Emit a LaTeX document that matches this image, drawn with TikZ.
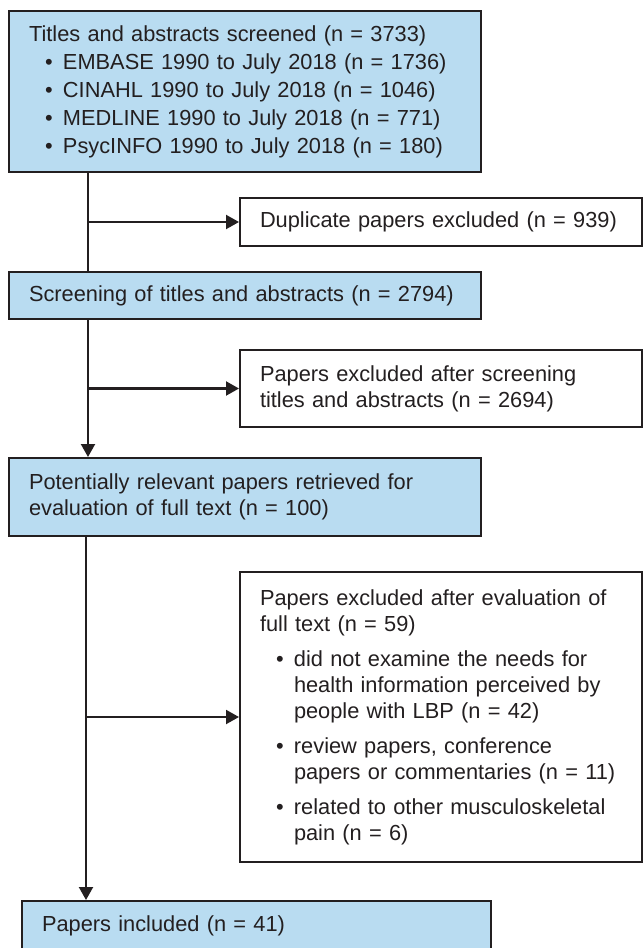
\documentclass[tikz,border=0pt]{standalone}
\usepackage{fontspec}
\setmainfont{Liberation Sans}
\usetikzlibrary{arrows.meta}
\definecolor{boxblue}{HTML}{B9DCF1}
\definecolor{ink}{HTML}{231F20}
\newcommand{\itm}{\makebox[34pt][l]{\hspace*{16pt}\textbullet}}
\newcommand{\cont}{\hspace*{34pt}}
\begin{document}
\begin{tikzpicture}[x=1pt,y=-1pt,
  box/.style={draw=ink, line width=2pt, anchor=north west, inner xsep=20pt, inner ysep=0pt, align=left, text=ink, font=\fontsize{21.8}{26}\selectfont},
  bluebox/.style={box, fill=boxblue},
  whitebox/.style={box, fill=white},
  conn/.style={draw=ink, line width=2.1pt},
  arr/.style={conn, -{Triangle[length=13pt,width=14pt]}}]
\useasboundingbox (0,0) rectangle (643,948);

\node[bluebox, text width=432pt, minimum height=161pt, font=\fontsize{21.8}{28}\selectfont] (box1) at (8,10) {Titles and abstracts screened (n = 3733)\\
\itm EMBASE 1990 to July 2018 (n = 1736)\\
\itm CINAHL 1990 to July 2018 (n = 1046)\\
\itm MEDLINE 1990 to July 2018 (n = 771)\\
\itm PsycINFO 1990 to July 2018 (n = 180)};

\node[whitebox, text width=362pt, minimum height=48pt] (dup) at (239,197) {Duplicate papers excluded (n = 939)};

\node[bluebox, text width=432pt, minimum height=47pt] (screen) at (8,271) {Screening of titles and abstracts (n = 2794)};

\node[whitebox, text width=362pt, minimum height=77pt] (excl1) at (239,349) {Papers excluded after screening\\titles and abstracts (n = 2694)};

\node[bluebox, text width=432pt, minimum height=78pt] (box3) at (8,457) {Potentially relevant papers retrieved for\\evaluation of full text (n = 100)};

\node[whitebox, text width=362pt, minimum height=290pt] (excl2) at (239,571) {Papers excluded after evaluation of\\
full text (n = 59)\\[9pt]
\itm did not examine the needs for\\
\cont health information perceived by\\
\cont people with LBP (n = 42)\\[9pt]
\itm review papers, conference\\
\cont papers or commentaries (n = 11)\\[9pt]
\itm related to other musculoskeletal\\
\cont pain (n = 6)};

\node[bluebox, text width=429pt, minimum height=49pt] (incl) at (21,900) {Papers included (n = 41)};

\coordinate (s1) at (88,0);
\coordinate (s2) at (86,0);
\draw[conn] (box1.south -| s1) -- (screen.north -| s1);
\draw[arr] (dup.west -| s1) -- (dup.west);
\draw[arr] (screen.south -| s1) -- (box3.north -| s1);
\draw[arr] (excl1.west -| s1) -- (excl1.west);
\draw[arr] (box3.south -| s2) -- (incl.north -| s2);
\draw[arr] (excl2.west -| s2) -- (excl2.west);
\end{tikzpicture}
\end{document}
